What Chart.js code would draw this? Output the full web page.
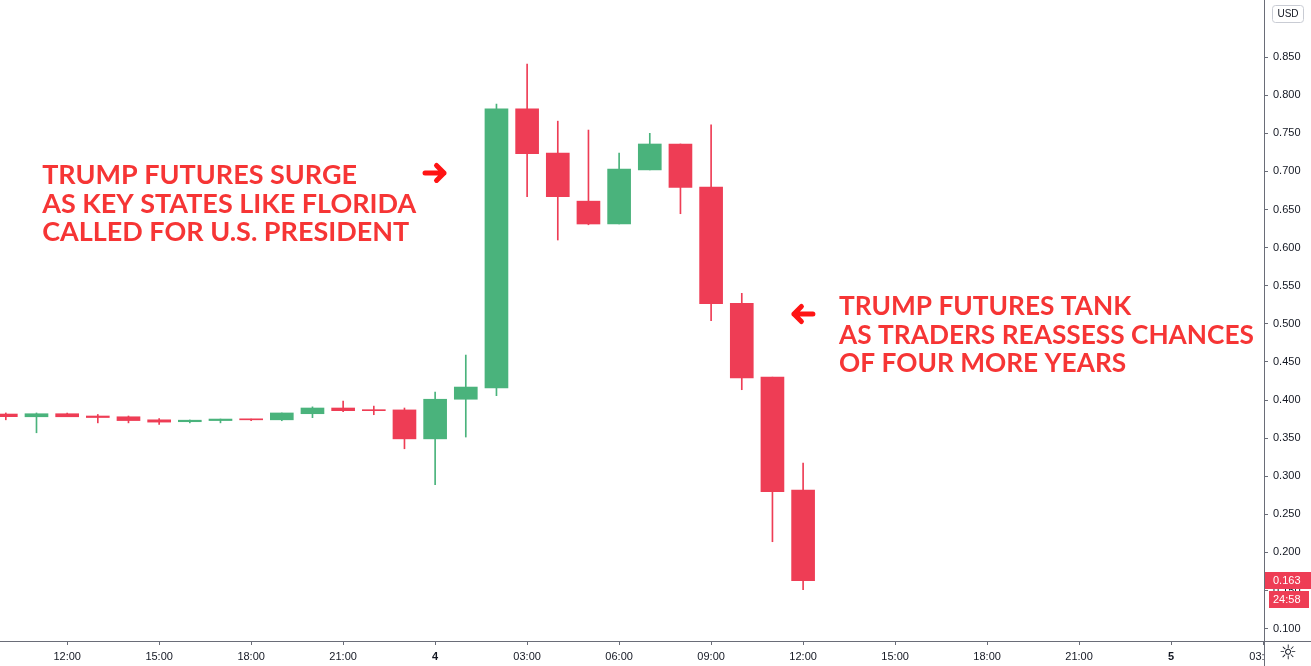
<!DOCTYPE html>
<html>
<head>
<meta charset="utf-8">
<script src="https://cdn.jsdelivr.net/npm/chart.js@4/dist/chart.umd.min.js"></script>
<style>
  html, body { margin: 0; padding: 0; background: #ffffff; }
  #wrap { position: relative; width: 1311px; height: 666px; }
</style>
</head>
<body>
<div id="wrap"><canvas id="myChart"></canvas></div>
<script>
// hours counted from 00:00 of day 3, one candle per hour
const hours  = [10, 11, 12, 13, 14, 15, 16, 17, 18, 19, 20, 21, 22, 23, 24, 25, 26, 27, 28, 29, 30, 31, 32, 33, 34, 35, 36];
const opens  = [0.3816, 0.378, 0.382, 0.379, 0.378, 0.374, 0.3715, 0.373, 0.375, 0.374, 0.382, 0.3895, 0.3869, 0.387, 0.349, 0.401, 0.416, 0.782, 0.724, 0.661, 0.631, 0.702, 0.736, 0.6795, 0.527, 0.430, 0.2819];
const highs  = [0.383, 0.383, 0.383, 0.381, 0.379, 0.3755, 0.3738, 0.375, 0.375, 0.383, 0.391, 0.3987, 0.392, 0.3895, 0.4105, 0.459, 0.7885, 0.841, 0.766, 0.7543, 0.724, 0.750, 0.736, 0.761, 0.540, 0.430, 0.3173];
const lows   = [0.374, 0.357, 0.378, 0.370, 0.370, 0.368, 0.370, 0.370, 0.3728, 0.3728, 0.3768, 0.3846, 0.3807, 0.336, 0.289, 0.3514, 0.4057, 0.667, 0.610, 0.630, 0.631, 0.702, 0.6445, 0.504, 0.4135, 0.214, 0.151];
const closes = [0.3781, 0.382, 0.378, 0.377, 0.373, 0.371, 0.3735, 0.375, 0.374, 0.383, 0.3895, 0.386, 0.386, 0.349, 0.401, 0.417, 0.782, 0.7232, 0.667, 0.631, 0.703, 0.736, 0.679, 0.5264, 0.429, 0.2797, 0.163];

const xTicks = [12, 15, 18, 21, 24, 27, 30, 33, 36, 39, 42, 45, 48, 51];
const yTicks = [0.10, 0.15, 0.20, 0.25, 0.30, 0.35, 0.40, 0.45, 0.50, 0.55, 0.60, 0.65, 0.70, 0.75, 0.80, 0.85];
const X_MIN = 9.81, X_MAX = 51.03;
const Y_MIN = 0.0837, Y_MAX = 0.925;

const currency = 'USD';
const countdown = '24:58';
const notes = [
    { hour: 11.185, price: 0.6835, lines: ['TRUMP FUTURES SURGE', 'AS KEY STATES LIKE FLORIDA', 'CALLED FOR U.S. PRESIDENT'], width: 374 },
    { hour: 37.17, price: 0.5115, lines: ['TRUMP FUTURES TANK', 'AS TRADERS REASSESS CHANCES', 'OF FOUR MORE YEARS'], width: 415 }
];
const arrows = [
    { hour: 24.29, price: 0.698, dir: 1 },
    { hour: 35.70, price: 0.5129, dir: -1 }
];

const UP = '#4ab37c';
const DOWN = '#ee3d55';
const TEXT = '#131722';
const AXIS = '#6a6d78';
const NOTE = '#f63535';
const FONT = "'Liberation Sans', Arial, sans-serif";

var colors = opens.map((o, i) => closes[i] >= o ? UP : DOWN);
var wickData = hours.map((h, i) => ({ x: h, y: [lows[i], highs[i]] }));
var bodyData = hours.map((h, i) => ({ x: h, y: [opens[i], closes[i]] }));

function hourLabel(v) {
    var h = v % 24;
    if (h === 0) return String(3 + v / 24);
    return (h < 10 ? '0' : '') + h + ':00';
}

const overlay = {
    id: 'overlay',
    afterDraw(chart) {
        var ctx = chart.ctx;
        var xs = chart.scales.x, ys = chart.scales.y;
        var area = chart.chartArea;
        var W = chart.width, H = chart.height;
        ctx.save();

        // annotations
        ctx.fillStyle = NOTE;
        ctx.font = "bold 26px Lato, 'Liberation Sans', sans-serif";
        ctx.textBaseline = 'alphabetic';
        ctx.textAlign = 'left';
        for (var n of notes) {
            var x0 = xs.getPixelForValue(n.hour);
            var y0 = ys.getPixelForValue(n.price);
            var widest = Math.max(...n.lines.map(l => ctx.measureText(l).width));
            var sx = n.width / widest;
            n.lines.forEach((l, i) => {
                ctx.save();
                ctx.translate(x0, y0 + i * 28.5);
                ctx.scale(sx, 1);
                ctx.fillText(l, 0, 0);
                ctx.restore();
            });
        }
        ctx.strokeStyle = '#ff1414';
        ctx.lineWidth = 5;
        ctx.lineCap = 'round';
        ctx.lineJoin = 'round';
        for (var a of arrows) {
            var tx = xs.getPixelForValue(a.hour);
            var ty = ys.getPixelForValue(a.price);
            var d = a.dir;
            ctx.beginPath();
            ctx.moveTo(tx - d * 19, ty);
            ctx.lineTo(tx, ty);
            ctx.moveTo(tx - d * 7.5, ty - 7.5);
            ctx.lineTo(tx, ty);
            ctx.lineTo(tx - d * 7.5, ty + 7.5);
            ctx.stroke();
        }

        // bottom-right corner and axis line extensions
        ctx.fillStyle = '#ffffff';
        ctx.fillRect(area.right + 1, area.bottom + 1, W - area.right, H - area.bottom);
        ctx.strokeStyle = AXIS;
        ctx.lineWidth = 1;
        ctx.lineCap = 'butt';
        ctx.beginPath();
        ctx.moveTo(area.right + 0.5, 0);
        ctx.lineTo(area.right + 0.5, H);
        ctx.moveTo(0, area.bottom + 0.5);
        ctx.lineTo(W, area.bottom + 0.5);
        ctx.stroke();
        ctx.fillStyle = TEXT;
        ctx.font = "20px 'DejaVu Sans', sans-serif";
        ctx.textAlign = 'center';
        ctx.textBaseline = 'middle';
        ctx.fillText('\u263C', area.right + 24, area.bottom + 13);

        // currency badge
        ctx.fillStyle = '#ffffff';
        ctx.strokeStyle = '#c9ccd4';
        ctx.beginPath();
        ctx.roundRect(area.right + 8.5, 5.5, 31, 17, 3);
        ctx.fill();
        ctx.stroke();
        ctx.fillStyle = TEXT;
        ctx.font = '10px ' + FONT;
        ctx.fillText(currency, area.right + 24, 14.5);

        // last price tag + countdown
        var last = closes[closes.length - 1];
        var py = Math.round(ys.getPixelForValue(last));
        ctx.fillStyle = DOWN;
        ctx.fillRect(area.right + 1, py - 9, W - area.right - 1, 17);
        ctx.fillRect(area.right + 5, py + 10, W - area.right - 7, 17);
        ctx.fillStyle = '#ffffff';
        ctx.font = '11px ' + FONT;
        ctx.textAlign = 'left';
        ctx.fillText(last.toFixed(3), area.right + 9, py);
        ctx.fillText(countdown, area.right + 9, py + 19);
        ctx.restore();
    }
};

new Chart(document.getElementById('myChart'), {
    type: 'bar',
    data: {
        datasets: [{
            label: 'wick',
            data: wickData,
            backgroundColor: colors,
            barThickness: 1,
            grouped: false,
            order: 2
        }, {
            label: 'body',
            data: bodyData,
            backgroundColor: colors,
            barThickness: 23,
            minBarLength: 1,
            grouped: false,
            order: 1
        }]
    },
    options: {
        responsive: true,
        maintainAspectRatio: false,
        animation: false,
        layout: { padding: 0 },
        plugins: { legend: { display: false }, tooltip: { enabled: false } },
        scales: {
            x: {
                type: 'linear',
                min: X_MIN,
                max: X_MAX,
                offset: false,
                grid: { drawOnChartArea: false, offset: false, tickLength: 4, color: AXIS },
                border: { color: AXIS },
                afterBuildTicks: s => { s.ticks = xTicks.map(v => ({ value: v })); },
                afterFit: s => { s.height = 25; s.paddingLeft = 0; s.paddingRight = 0; },
                ticks: {
                    autoSkip: false,
                    maxRotation: 0,
                    padding: 5,
                    color: TEXT,
                    font: c => ({ family: FONT, size: 11, weight: c.tick && c.tick.value % 24 === 0 ? 'bold' : 'normal' }),
                    callback: v => hourLabel(v)
                }
            },
            y: {
                position: 'right',
                min: Y_MIN,
                max: Y_MAX,
                grid: { drawOnChartArea: false, tickLength: 4, color: AXIS },
                border: { color: AXIS },
                afterBuildTicks: s => { s.ticks = yTicks.map(v => ({ value: v })); },
                afterFit: s => { s.width = 47; s.paddingTop = 0; s.paddingBottom = 0; },
                ticks: {
                    padding: 5,
                    color: TEXT,
                    font: { family: FONT, size: 11 },
                    callback: v => v.toFixed(3)
                }
            }
        }
    },
    plugins: [overlay]
});
</script>
</body>
</html>
